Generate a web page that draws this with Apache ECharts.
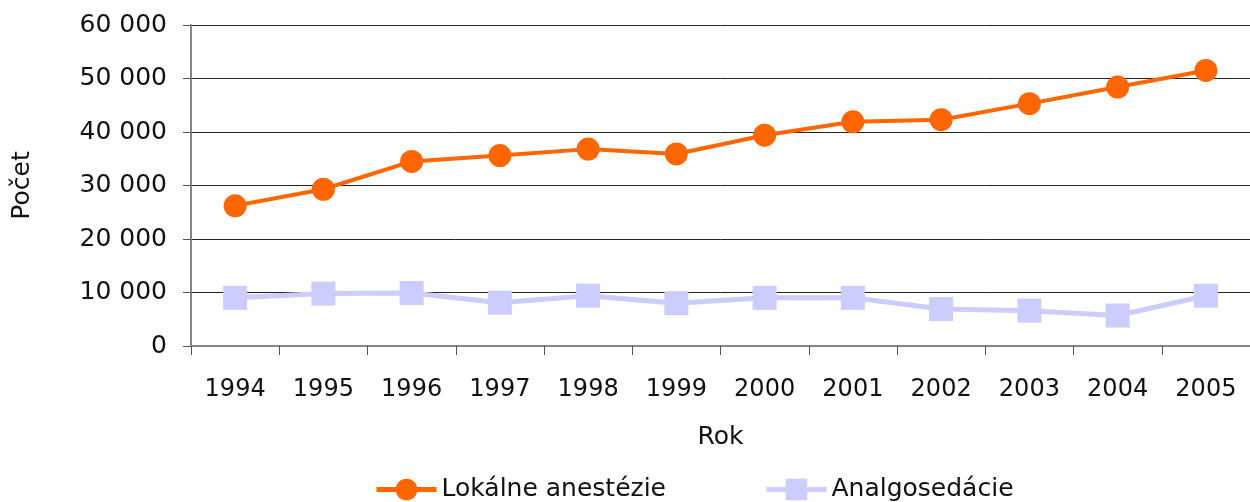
<!DOCTYPE html>
<html>
<head>
<meta charset="utf-8">
<script src="https://cdn.jsdelivr.net/npm/echarts@6/dist/echarts.min.js"></script>
<style>
html,body{margin:0;padding:0;background:#fff;}
#main{width:1250px;height:502px;}
</style>
</head>
<body>
<div id="main"></div>
<script>
var categories = ['1994','1995','1996','1997','1998','1999','2000','2001','2002','2003','2004','2005'];
var lokalne = [26200, 29300, 34500, 35600, 36800, 35900, 39400, 41900, 42300, 45300, 48400, 51500];
var analgo = [9000, 9800, 9900, 8100, 9400, 8000, 9000, 9000, 6900, 6600, 5700, 9400];
var seriesNames = ['Lokálne anestézie', 'Analgosedácie'];

var FONT = 'DejaVu Sans';
var chart = echarts.init(document.getElementById('main'), null, {renderer:'canvas'});
chart.setOption({
  animation: false,
  textStyle: {fontFamily: FONT},
  grid: {left: 191, right: 0, top: 25, bottom: 156, containLabel: false},
  legend: {
    left: 369, top: 472,
    itemWidth: 60, itemHeight: 27, itemGap: 98,
    lineStyle: {width: 5},
    textStyle: {fontFamily: FONT, fontSize: 25, color: '#111'},
    data: seriesNames
  },
  xAxis: {
    type: 'category',
    data: categories,
    boundaryGap: true,
    name: 'Rok', nameLocation: 'middle', nameGap: 79,
    nameTextStyle: {fontFamily: FONT, fontSize: 25, color: '#111'},
    axisLine: {lineStyle: {color: '#868686', width: 2}},
    axisTick: {show: true, length: 9, lineStyle: {color: '#555', width: 1}},
    axisLabel: {fontFamily: FONT, fontSize: 24, color: '#111', margin: 32, interval: 0},
    splitLine: {show: false}
  },
  yAxis: {
    type: 'value',
    min: 0, max: 60000, interval: 10000,
    name: 'Počet', nameLocation: 'middle', nameGap: 156, nameRotate: 90,
    nameTextStyle: {fontFamily: FONT, fontSize: 25, color: '#111'},
    axisLine: {show: true, lineStyle: {color: '#868686', width: 2}},
    axisTick: {show: true, length: 8, lineStyle: {color: '#555', width: 1}},
    axisLabel: {fontFamily: FONT, fontSize: 25, color: '#111', margin: 24,
      formatter: function(v){ return String(v).replace(/\B(?=(\d{3})+(?!\d))/g, ' '); }},
    splitLine: {show: true, lineStyle: {color: '#222', width: 1}}
  },
  series: [
    {
      name: seriesNames[0], type: 'line', data: lokalne,
      symbol: 'circle', symbolSize: 23,
      lineStyle: {color: '#FF6600', width: 4},
      itemStyle: {color: '#FF6600'},
      z: 3
    },
    {
      name: seriesNames[1], type: 'line', data: analgo,
      symbol: 'rect', symbolSize: 24,
      lineStyle: {color: '#CCCCFF', width: 5},
      itemStyle: {color: '#CCCCFF'},
      z: 2
    }
  ]
});
</script>
</body>
</html>
